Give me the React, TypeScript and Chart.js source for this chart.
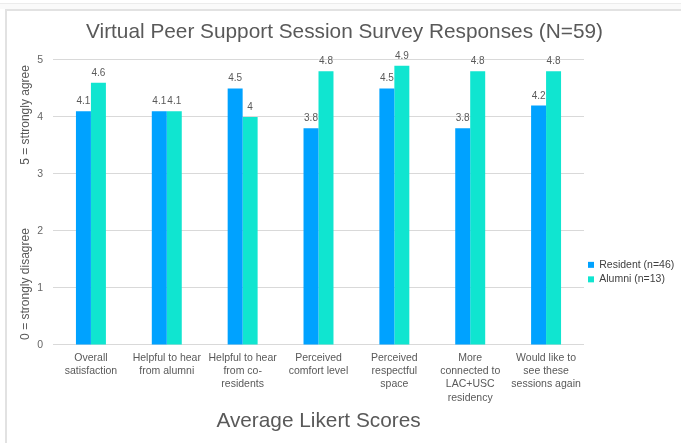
import React, { useEffect, useRef } from "react";
import { Chart, registerables } from "chart.js";

Chart.register(...registerables);

const categories: string[][] = [
  ["Overall", "satisfaction"],
  ["Helpful to hear", "from alumni"],
  ["Helpful to hear", "from co-", "residents"],
  ["Perceived", "comfort level"],
  ["Perceived", "respectful", "space"],
  ["More", "connected to", "LAC+USC", "residency"],
  ["Would like to", "see these", "sessions again"],
];
const residentValues = [4.1, 4.1, 4.5, 3.8, 4.5, 3.8, 4.2];
const alumniValues = [4.6, 4.1, 4.0, 4.8, 4.9, 4.8, 4.8];
const seriesNames = ["Resident (n=46)", "Alumni (n=13)"];
const seriesColors = ["#00a2ff", "#10e5d0"];
const yMin = 0;
const yMax = 5;
const yStep = 1;
const chartTitle = "Virtual Peer Support Session Survey Responses (N=59)";
const xAxisTitle = "Average Likert Scores";
const yAxisTitle = "0 = strongly disagree" + " ".repeat(19) + "5 = sttrongly agree";

const SANS = "'Liberation Sans', Arial, Helvetica, sans-serif";

const valueLabels = {
  id: "valueLabels",
  afterDatasetsDraw(chart: any) {
    const ctx = chart.ctx;
    ctx.save();
    ctx.font = `10px ${SANS}`;
    ctx.fillStyle = "#595959";
    ctx.textAlign = "center";
    ctx.textBaseline = "alphabetic";
    chart.data.datasets.forEach((ds: any, di: number) => {
      const meta = chart.getDatasetMeta(di);
      meta.data.forEach((bar: any, i: number) => {
        const v = ds.data[i];
        ctx.fillText(String(v), bar.x, bar.y - 7);
      });
    });
    ctx.restore();
  },
};

export default function App() {
  const ref = useRef<HTMLCanvasElement | null>(null);
  useEffect(() => {
    if (!ref.current) return;
    const chart = new Chart(ref.current, {
      type: "bar",
      data: {
        labels: categories,
        datasets: [
          { label: seriesNames[0], data: residentValues, backgroundColor: seriesColors[0], borderWidth: 0 },
          { label: seriesNames[1], data: alumniValues, backgroundColor: seriesColors[1], borderWidth: 0 },
        ],
      },
      options: {
        animation: false,
        responsive: false,
        maintainAspectRatio: false,
        layout: { padding: { top: 10, left: 8, right: 0, bottom: 0 } },
        datasets: { bar: { categoryPercentage: 0.395, barPercentage: 1 } },
        plugins: {
          title: {
            display: true,
            text: chartTitle,
            color: "#595959",
            font: { family: SANS, size: 20.8, weight: "normal" },
            padding: { top: 10, bottom: 15 },
          },
          legend: {
            position: "right",
            maxWidth: 97,
            title: { display: true, text: " ", font: { size: 1 }, padding: { top: 90, bottom: 0 } },
            labels: {
              boxWidth: 6,
              boxHeight: 6,
              padding: 4,
              color: "#404040",
              font: { family: SANS, size: 10.5 },
            },
          },
          tooltip: { enabled: false },
        },
        scales: {
          x: {
            grid: { display: false, drawTicks: false },
            border: { display: false },
            afterFit: (scale: any) => {
              scale.height = 98;
            },
            ticks: {
              color: "#595959",
              font: { family: SANS, size: 10.5, lineHeight: 1.27 },
              padding: 6,
              maxRotation: 0,
              autoSkip: false,
            },
            title: {
              display: true,
              text: xAxisTitle,
              color: "#595959",
              font: { family: SANS, size: 20.8 },
              padding: { top: 5, bottom: 9 },
            },
          },
          y: {
            min: yMin,
            max: yMax,
            grid: { color: "#d9d9d9", drawTicks: false },
            border: { display: false },
            afterFit: (scale: any) => {
              scale.width = 45;
            },
            ticks: {
              stepSize: yStep,
              color: "#666666",
              font: { family: SANS, size: 10.5 },
              padding: 10,
            },
            title: {
              display: true,
              text: yAxisTitle,
              color: "#595959",
              font: { family: SANS, size: 12 },
              padding: { top: 10, bottom: 5 },
            },
          },
        },
      },
      plugins: [valueLabels],
    });
    return () => chart.destroy();
  }, []);

  return (
    <div style={{ position: "fixed", left: 0, top: 0, width: 681, height: 443, background: "#ffffff", overflow: "hidden" }}>
      <div style={{ position: "absolute", left: 0, top: 3, width: 681, height: 1, background: "#ececec" }} />
      <div style={{ position: "absolute", left: 0, top: 4, width: 681, height: 5, background: "#fafafa" }} />
      <div
        style={{
          position: "absolute",
          left: 5,
          top: 9,
          width: 700,
          height: 460,
          borderLeft: "2px solid #e2e2e2",
          borderTop: "2px solid #e2e2e2",
          background: "#ffffff",
        }}
      />
      <canvas ref={ref} width={681} height={443} style={{ position: "absolute", left: 0, top: 0, width: 681, height: 443 }} />
    </div>
  );
}
